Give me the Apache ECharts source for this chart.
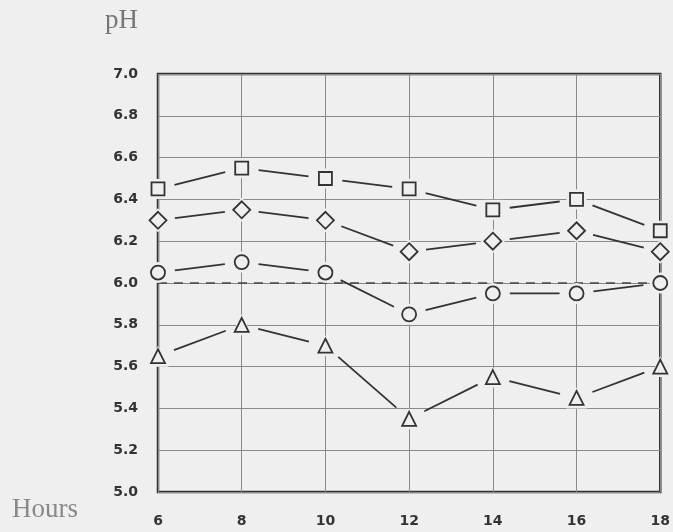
<!DOCTYPE html>
<html><head><meta charset="utf-8">
<script src="https://cdn.jsdelivr.net/npm/echarts@6/dist/echarts.min.js"></script>
<style>html,body{margin:0;padding:0;background:#efefef}#c{width:673px;height:532px}</style>
</head><body><div id="c"></div>
<script>
const hours = [6, 8, 10, 12, 14, 16, 18];
const squares = [6.45, 6.55, 6.50, 6.45, 6.35, 6.40, 6.25];
const diamonds = [6.30, 6.35, 6.30, 6.15, 6.20, 6.25, 6.15];
const circles = [6.05, 6.10, 6.05, 5.85, 5.95, 5.95, 6.00];
const triangles = [5.65, 5.80, 5.70, 5.35, 5.55, 5.45, 5.60];
const yTicks = [5.0, 5.2, 5.4, 5.6, 5.8, 6.0, 6.2, 6.4, 6.6, 6.8, 7.0];
const referenceLine = 6.0;

const BG = '#efefef', INK = '#333';
const groups = [
  {vals: squares, sym: 'rect', size: 13},
  {vals: diamonds, sym: 'diamond', size: 17},
  {vals: circles, sym: 'circle', size: 14},
  {vals: triangles, sym: 'triangle', size: 14}
];

const series = [];
groups.forEach((g, gi) => {
  const segs = [];
  for (let i = 0; i < hours.length - 1; i++) segs.push([hours[i], g.vals[i], hours[i+1], g.vals[i+1]]);
  series.push({
    type: 'custom', z: 3, silent: true,
    data: segs,
    renderItem: function (params, api) {
      const a = api.coord([api.value(0), api.value(1)]);
      const b = api.coord([api.value(2), api.value(3)]);
      const dx = b[0] - a[0], dy = b[1] - a[1];
      const len = Math.sqrt(dx*dx + dy*dy);
      const gap = 17;
      const ux = dx/len, uy = dy/len;
      return {type: 'line', shape: {x1: a[0] + ux*gap, y1: a[1] + uy*gap, x2: b[0] - ux*gap, y2: b[1] - uy*gap},
        style: {stroke: INK, lineWidth: 1.8}};
    }
  });
  series.push({
    type: 'scatter', z: 4, silent: true,
    data: hours.map((h, i) => [h, g.vals[i]]),
    symbol: g.sym, symbolSize: g.size + 7,
    itemStyle: {color: BG, borderWidth: 0, opacity: 1}
  });
  const s = {
    type: 'scatter', z: 5, silent: true,
    data: hours.map((h, i) => [h, g.vals[i]]),
    symbol: g.sym, symbolSize: g.size,
    itemStyle: {color: BG, borderColor: INK, borderWidth: 1.8, opacity: 1}
  };
  if (gi === 2) {
    s.markLine = {silent: true, symbol: 'none', z: 2, label: {show: false},
      lineStyle: {color: '#444', width: 1.5, type: [9, 7], opacity: 1},
      data: [{yAxis: referenceLine}]};
  }
  series.push(s);
});

const chart = echarts.init(document.getElementById('c'));
chart.setOption({
  backgroundColor: BG,
  animation: false,
  grid: {left: 158, right: 11, top: 74, bottom: 40, show: true, borderColor: INK, borderWidth: 2.5, backgroundColor: 'transparent'},
  xAxis: {
    type: 'value', min: 6, max: 18, interval: 2,
    axisLine: {show: false}, axisTick: {show: false},
    splitLine: {show: true, lineStyle: {color: '#8a8a8a', width: 1}},
    axisLabel: {margin: 22, color: '#333', fontFamily: 'DejaVu Sans', fontWeight: 'bold', fontSize: 14}
  },
  yAxis: {
    type: 'value', min: 5, max: 7, interval: 0.2,
    axisLine: {show: false}, axisTick: {show: false},
    splitLine: {show: true, lineStyle: {color: '#8a8a8a', width: 1}},
    axisLabel: {margin: 20, color: '#333', fontFamily: 'DejaVu Sans', fontWeight: 'bold', fontSize: 14,
      formatter: v => { const t = yTicks.find(x => Math.abs(x - v) < 1e-6); return t === undefined ? '' : t.toFixed(1); }}
  },
  graphic: [
    {type: 'text', left: 105, top: 7, style: {text: 'pH', fill: '#777', font: '27px "Liberation Serif"'}},
    {type: 'text', left: 12, top: 496, style: {text: 'Hours', fill: '#888', font: '27px "Liberation Serif"'}}
  ],
  series: series
});
</script></body></html>
